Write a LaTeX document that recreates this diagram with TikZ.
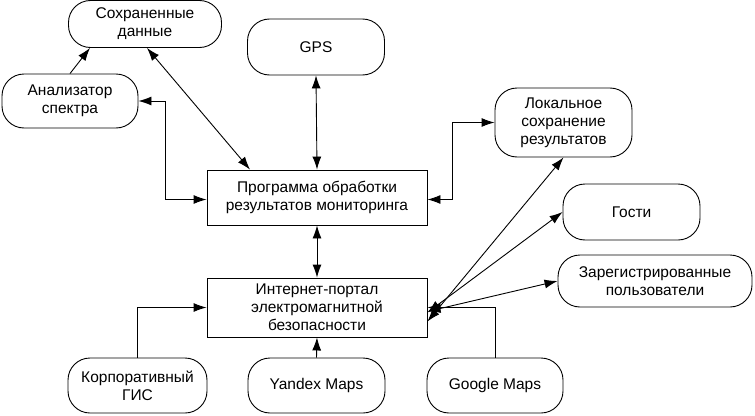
\documentclass[tikz,border=0pt]{standalone}
\usepackage{fontspec}
\setmainfont{Liberation Sans}
\usetikzlibrary{arrows.meta}
\begin{document}
\begin{tikzpicture}[x=1pt,y=-1pt,
  lbl/.style={font=\fontsize{15.5}{18}\selectfont, align=center, inner sep=0pt},
  rbox/.style={lbl, draw, line width=0.9pt, rounded corners=22pt},
  pbox/.style={lbl, draw, line width=0.9pt},
  conn/.style={line width=0.9pt, >={Latex[length=13pt,width=9pt]}}]
\useasboundingbox (0,0) rectangle (755,415);
% nodes
\node[rbox, minimum width=153pt, minimum height=47pt] (sav) at (145,24) {Сохраненные\\данные};
\node[rbox, minimum width=137pt, minimum height=56pt] (gps) at (316,47) {GPS};
\node[rbox, minimum width=136pt, minimum height=54pt] (anal) at (70,101) {Анализатор\\спектра};
\node[pbox, minimum width=220pt, minimum height=55pt] (prog) at (317,197.5) {Программа обработки\\результатов мониторинга};
\node[rbox, minimum width=137pt, minimum height=69pt] (loc) at (563.5,122.5) {Локальное\\сохранение\\результатов};
\node[rbox, minimum width=137pt, minimum height=56pt] (gue) at (631.5,212) {Гости};
\node[rbox, minimum width=194pt, minimum height=52pt] (reg) at (655,281) {Зарегистрированные\\пользователи};
\node[pbox, minimum width=220pt, minimum height=59pt] (inet) at (317,307.5) {Интернет-портал\\электромагнитной\\безопасности};
\node[rbox, minimum width=139pt, minimum height=55pt] (corp) at (137.5,385.5) {Корпоративный\\ГИС};
\node[rbox, minimum width=137pt, minimum height=55pt] (yan) at (316.5,385.5) {Yandex Maps};
\node[rbox, minimum width=136pt, minimum height=55pt] (goo) at (495,385.5) {Google Maps};
% connectors
\draw[conn,->] (anal.north) -- ([xshift=-55pt]sav.south);
\draw[conn,<->] ([xshift=2pt]sav.south) -- ([xshift=-67pt]prog.north);
\draw[conn,<->] (anal.east) -- ++(27,0) |- ([yshift=-2pt]prog.west);
\draw[conn,<->] (gps.south) -- (prog.north);
\draw[conn,<->] ([yshift=-2pt]prog.east) -- ++(25,0) |- (loc.west);
\draw[conn,<->] (prog.south) -- (inet.north);
\draw[conn,<->] ([yshift=-14pt]inet.east) -- (loc.south);
\draw[conn,<->] ([yshift=-5pt]inet.east) -- (gue.west);
\draw[conn,<->] ([yshift=-4pt]inet.east) -- (reg.west);
\draw[conn,->] (corp.north) |- (inet.west);
\draw[conn,->] (yan.north) -- (inet.south);
\draw[conn,->] (goo.north) |- (inet.east);
\end{tikzpicture}
\end{document}
